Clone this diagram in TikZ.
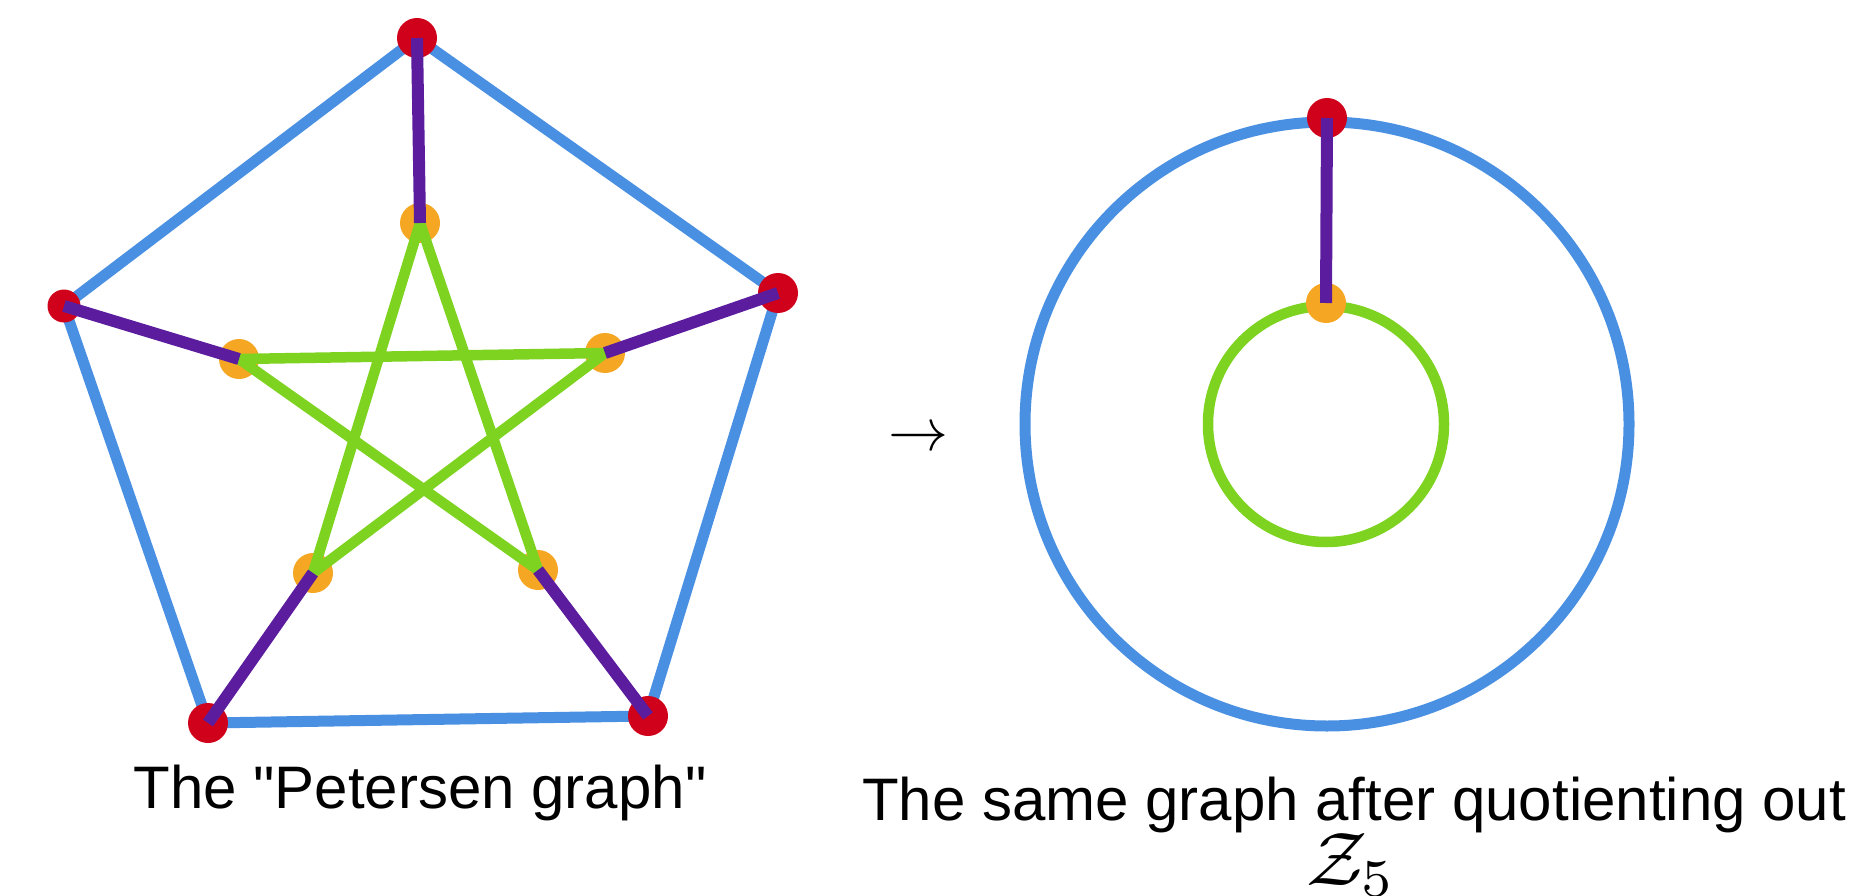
\documentclass[tikz,border=0pt]{standalone}
\usepackage{graphicx}
\usepackage{fontspec}
\setmainfont{Liberation Sans}[Ligatures=TeXOff]
\definecolor{eblue}{RGB}{74,144,226}
\definecolor{ered}{RGB}{208,2,27}
\definecolor{eorange}{RGB}{245,166,35}
\definecolor{egreen}{RGB}{126,211,33}
\definecolor{epurple}{RGB}{91,28,158}
\newcommand{\bigmath}[2]{\scalebox{#1}{\fontsize{10}{12}\selectfont$#2$}}
\tikzset{
  outerdot/.style={circle,fill=ered,inner sep=0pt,minimum size=40pt},
  innerdot/.style={circle,fill=eorange,inner sep=0pt,minimum size=40pt},
  blueedge/.style={draw=eblue,line width=11pt},
  greenedge/.style={draw=egreen,line width=10.5pt},
  spoke/.style={draw=epurple,line width=12pt},
  lbl/.style={anchor=base,inner sep=0pt,font=\fontsize{60}{66}\selectfont},
}
\begin{document}
\begin{tikzpicture}[x=1pt,y=-1pt]
\useasboundingbox (0,0) rectangle (1850,896);
% positions
\coordinate (T) at (417,38);
\coordinate (L) at (64,306);
\coordinate (R) at (778,293);
\coordinate (BL) at (208,723);
\coordinate (BR) at (648,716);
\coordinate (t) at (420,223);
\coordinate (l) at (239,359);
\coordinate (r) at (605,353);
\coordinate (bl) at (313,573);
\coordinate (br) at (538,570);
% outer pentagon
\draw[blueedge] (T) -- (L) -- (BL) -- (BR) -- (R) -- cycle;
% dots
\node[outerdot] (nT) at (T) {};
\node[outerdot,minimum size=33pt] (nL) at (L) {};
\node[outerdot] (nR) at (R) {};
\node[outerdot] (nBL) at (BL) {};
\node[outerdot] (nBR) at (BR) {};
\node[innerdot] (nt) at (t) {};
\node[innerdot] (nl) at (l) {};
\node[innerdot] (nr) at (r) {};
\node[innerdot] (nbl) at (bl) {};
\node[innerdot] (nbr) at (br) {};
% pentagram
\draw[greenedge] (nt.center) -- (nbl.center) -- (nr.center) -- (nl.center) -- (nbr.center) -- cycle;
% spokes
\draw[spoke] (nT.center) -- (nt.center);
\draw[spoke] (nL.center) -- (nl.center);
\draw[spoke] (nR.center) -- (nr.center);
\draw[spoke] (nBL.center) -- (nbl.center);
\draw[spoke] (nBR.center) -- (nbr.center);
% label
\node[lbl] (lab1) at (420,808) {The "Petersen graph"};
% arrow
\node[lbl] (arr) at (918,450) {\bigmath{6}{\rightarrow}};
% quotient graph
\draw[blueedge] (1327,424) circle[radius=302];
\draw[greenedge] (1326,424) circle[radius=118];
\node[outerdot] (qT) at (1327,118) {};
\node[innerdot] (qt) at (1326,303) {};
\draw[spoke] (qT.center) -- (qt.center);
\node[lbl] (lab2) at (1354,820) {The same graph after quotienting out};
\node[lbl] (lab3) at (1351,885) {\bigmath{7.6}{\mathcal{Z}_5}};
\end{tikzpicture}
\end{document}
